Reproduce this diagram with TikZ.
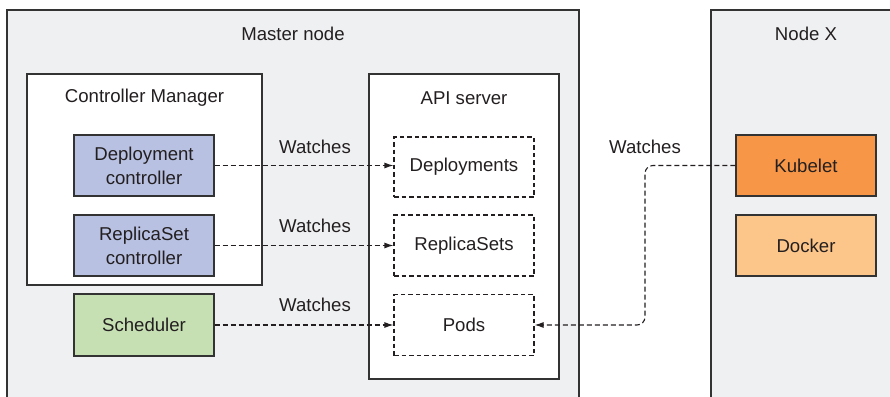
\documentclass[tikz,border=0pt]{standalone}
\usepackage{fontspec}
\setmainfont{Liberation Sans}
\usetikzlibrary{arrows.meta}
\definecolor{bgc}{HTML}{EFF0F2}
\definecolor{linec}{HTML}{333333}
\definecolor{txtc}{HTML}{231F20}
\definecolor{ctrlc}{HTML}{B8C1E2}
\definecolor{schedc}{HTML}{C6E0B4}
\definecolor{kubc}{HTML}{F79646}
\definecolor{dockc}{HTML}{FCC68A}
\tikzset{
  boxbase/.style={draw=linec, line width=1.3pt, minimum width=140pt, minimum height=61pt, inner sep=0pt, align=center, text=txtc, font=\fontsize{18.6}{24}\selectfont},
  ctrlbox/.style={boxbase, fill=ctrlc},
  schedbox/.style={boxbase, fill=schedc},
  kubbox/.style={boxbase, fill=kubc},
  dockbox/.style={boxbase, fill=dockc},
  resbox/.style={boxbase, draw=txtc, line width=1.1pt, dashed, dash pattern=on 4.5pt off 3pt, fill=white},
  container/.style={draw=linec, line width=1.3pt},
  lbl/.style={text=txtc, font=\fontsize{18.6}{24}\selectfont, inner sep=0pt},
  watch/.style={draw=txtc, line width=1.1pt, dash pattern=on 5pt off 3pt, -{Latex[length=9pt,width=6pt]}},
}
\begin{document}
\begin{tikzpicture}[x=1pt,y=-1pt]
\useasboundingbox (0,0) rectangle (890,396);
\fill[white] (0,0) rectangle (890,396);
\begin{scope}
\clip (0,0) rectangle (890,396);
% Master node
\draw[container, fill=bgc] (7,10) rectangle (579,420);
\node[lbl] (mastertitle) at (293,34) {Master node};
% Node X
\draw[container, fill=bgc] (711,10) rectangle (920,420);
\node[lbl] (nodextitle) at (806,34) {Node X};
\end{scope}
% Controller Manager
\draw[container, fill=white] (27,74) rectangle (262,285);
\node[lbl] (cmtitle) at (144.5,98) {Controller Manager};
% API server
\draw[container, fill=white] (369,74) rectangle (559,379);
\node[lbl] (apititle) at (464,98) {API server};
% controllers
\node[ctrlbox] (dc) at (144,165.5) {Deployment\\controller};
\node[ctrlbox] (rc) at (144,245.5) {ReplicaSet\\controller};
\node[schedbox, minimum height=62pt] (sch) at (144,325) {Scheduler};
% resources
\node[resbox, minimum height=60pt] (dep) at (464,167) {Deployments};
\node[resbox] (rs) at (464,245.5) {ReplicaSets};
\node[resbox] (pods) at (464,325) {Pods};
% node X components
\node[kubbox] (kub) at (806,165.5) {Kubelet};
\node[dockbox] (dock) at (806,245.5) {Docker};
% connectors
\draw[watch] (dc.east) -- (dc.east -| dep.west);
\draw[watch] (rc.east) -- (rc.east -| rs.west);
\draw[watch] (sch.east) -- (sch.east -| pods.west);
\coordinate (turn) at (645,325);
\draw[watch, rounded corners=8pt] (kub.west) -| (turn) -- (pods.east);
% labels
\node[lbl] (w1) at (315,147) {Watches};
\node[lbl] (w2) at (315,226) {Watches};
\node[lbl] (w3) at (315,305) {Watches};
\node[lbl] (w4) at (645,147) {Watches};
\end{tikzpicture}
\end{document}
